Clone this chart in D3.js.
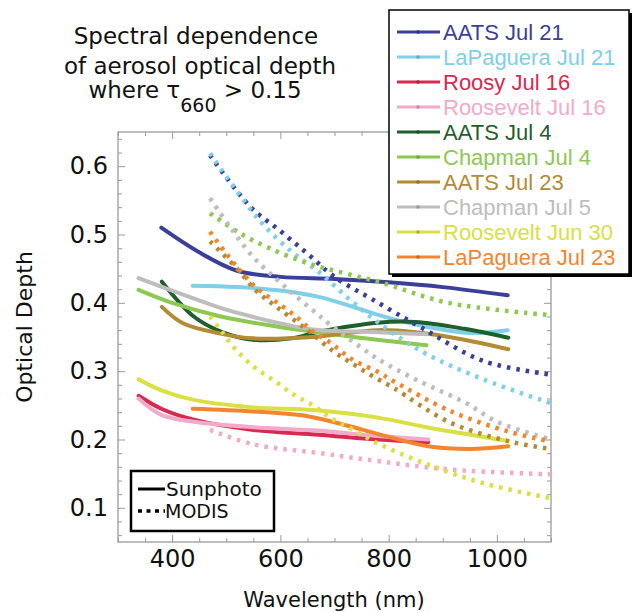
<!DOCTYPE html>
<html>
<head>
<meta charset="utf-8">
<script src="https://cdn.jsdelivr.net/npm/d3@7"></script>
<style>
body { margin: 0; background: #fff; }
svg { display: block; }
</style>
</head>
<body>
<svg width="633" height="613"></svg>
<script>
// [wavelength nm, optical depth]
var aatsJul21Sun = [[380,0.510],[450,0.474],[520,0.447],[600,0.438],[700,0.435],[800,0.430],[900,0.423],[1020,0.411]];
var lapJul21Sun = [[438,0.425],[520,0.423],[600,0.418],[675,0.408],[750,0.390],[800,0.378],[870,0.365],[950,0.356],[1020,0.360]];
var roosyJul16Sun = [[338,0.264],[380,0.245],[440,0.229],[550,0.214],[670,0.207],[780,0.200],[873,0.196]];
var roosJul16Sun = [[338,0.260],[380,0.236],[440,0.226],[550,0.218],[670,0.213],[780,0.205],[873,0.200]];
var aatsJul4Sun = [[381,0.431],[440,0.380],[490,0.358],[550,0.346],[620,0.348],[673,0.358],[780,0.371],[850,0.372],[940,0.362],[1021,0.349]];
var chapJul4Sun = [[338,0.419],[400,0.400],[490,0.380],[612,0.363],[735,0.350],[870,0.338]];
var aatsJul23Sun = [[381,0.394],[420,0.370],[489,0.355],[550,0.348],[660,0.350],[780,0.360],[850,0.357],[940,0.346],[1021,0.332]];
var chapJul5Sun = [[338,0.436],[400,0.418],[500,0.390],[600,0.370],[660,0.361],[780,0.357],[870,0.354]];
var roosJun30Sun = [[338,0.288],[380,0.272],[440,0.258],[550,0.247],[660,0.243],[780,0.232],[870,0.218],[1020,0.198]];
var lapJul23Sun = [[438,0.245],[550,0.241],[650,0.234],[730,0.219],[790,0.206],[873,0.190],[950,0.186],[1021,0.190]];

var aatsJul21Modis = [[470,0.616],[544,0.541],[600,0.505],[650,0.472],[700,0.438],[770,0.405],[860,0.364],[975,0.315],[1100,0.295]];
var lapJul21Modis = [[470,0.619],[560,0.522],[625,0.472],[673,0.444],[735,0.400],[800,0.360],[870,0.325],[975,0.288],[1100,0.253]];
var roosJul16Modis = [[470,0.214],[550,0.193],[673,0.180],[784,0.168],[913,0.156],[1100,0.149]];
var chapJul4Modis = [[470,0.531],[525,0.502],[580,0.480],[650,0.458],[720,0.443],[785,0.430],[910,0.400],[1100,0.382]];
var aatsJul23Modis = [[470,0.490],[520,0.450],[556,0.417],[593,0.394],[650,0.360],[698,0.329],[735,0.310],[772,0.292],[810,0.275],[913,0.225],[1024,0.197],[1100,0.186]];
var chapJul5Modis = [[470,0.553],[507,0.511],[550,0.467],[605,0.426],[660,0.389],[692,0.368],[747,0.336],[784,0.316],[852,0.287],[944,0.253],[1000,0.226],[1100,0.200]];
var roosJun30Modis = [[470,0.380],[490,0.360],[516,0.333],[550,0.307],[587,0.287],[624,0.266],[660,0.250],[692,0.232],[735,0.214],[778,0.195],[870,0.164],[975,0.136],[1100,0.114]];
var lapJul23Modis = [[470,0.504],[500,0.472],[530,0.443],[560,0.419],[600,0.397],[636,0.375],[660,0.358],[690,0.343],[735,0.316],[780,0.299],[810,0.285],[913,0.242],[1024,0.211],[1100,0.197]];

var names = ["AATS Jul 21","LaPaguera Jul 21","Roosy Jul 16","Roosevelt Jul 16","AATS Jul 4","Chapman Jul 4","AATS Jul 23","Chapman Jul 5","Roosevelt Jun 30","LaPaguera Jul 23"];
var colors = ["#3b3f98","#80cfe8","#d8294f","#f2aacb","#1f5f2c","#8dc851","#b38b33","#bdbdbd","#d8e043","#f3852e"];
var sunData = [aatsJul21Sun, lapJul21Sun, roosyJul16Sun, roosJul16Sun, aatsJul4Sun, chapJul4Sun, aatsJul23Sun, chapJul5Sun, roosJun30Sun, lapJul23Sun];
var modisData = [aatsJul21Modis, lapJul21Modis, null, roosJul16Modis, null, chapJul4Modis, aatsJul23Modis, chapJul5Modis, roosJun30Modis, lapJul23Modis];

var xMajor = [400, 600, 800, 1000];
var yMajor = [0.1, 0.2, 0.3, 0.4, 0.5, 0.6];

var svg = d3.select("svg");
var pLeft = 118, pRight = 551, pTop = 132, pBottom = 542;
var serif = "DejaVu Sans, Lucida Grande, sans-serif";

var x = d3.scaleLinear().domain([300, 1100]).range([pLeft, pRight]);
var y = d3.scaleLinear().domain([0.05, 0.65]).range([pBottom, pTop]);

svg.append("defs").append("clipPath").attr("id", "plotclip")
    .append("rect").attr("x", pLeft).attr("y", pTop)
    .attr("width", pRight - pLeft).attr("height", pBottom - pTop);

// title
var title = svg.append("g").attr("font-family", serif).attr("font-size", 23)
    .attr("text-anchor", "middle").attr("fill", "#111");
title.append("text").attr("x", 196).attr("y", 44).text("Spectral dependence");
title.append("text").attr("x", 200).attr("y", 74).text("of aerosol optical depth");
var t3 = title.append("text").attr("x", 195).attr("y", 98);
t3.append("tspan").text("where \u03c4");
t3.append("tspan").attr("font-size", 19).attr("dy", 14).text("660");
t3.append("tspan").attr("dy", -14).text(" > 0.15");

// axes / ticks, all inward
var tickCol = "#9a9a9a";
var minorX = d3.range(300, 1101, 50).filter(function(d) { return xMajor.indexOf(d) < 0; });
var minorY = d3.range(6, 65, 2).map(function(d) { return d / 100; }).filter(function(d) {
    return yMajor.every(function(m) { return Math.abs(m - d) > 1e-6; });
});

function styleAxis(g) {
    g.select(".domain").remove();
    g.selectAll("line").attr("stroke", tickCol).attr("stroke-width", 1);
    g.selectAll("text").attr("font-family", serif).attr("font-size", 24).attr("fill", "#111");
}

svg.append("g").attr("transform", "translate(0," + pBottom + ")")
    .call(d3.axisBottom(x).tickValues(xMajor).tickSize(-7).tickPadding(8).tickFormat(d3.format("d")))
    .call(styleAxis);
svg.append("g").attr("transform", "translate(0," + pBottom + ")")
    .call(d3.axisBottom(x).tickValues(minorX).tickSize(-4).tickFormat(""))
    .call(styleAxis);
svg.append("g").attr("transform", "translate(0," + pTop + ")")
    .call(d3.axisTop(x).tickValues(xMajor).tickSize(-7).tickFormat(""))
    .call(styleAxis);
svg.append("g").attr("transform", "translate(0," + pTop + ")")
    .call(d3.axisTop(x).tickValues(minorX).tickSize(-4).tickFormat(""))
    .call(styleAxis);

svg.append("g").attr("transform", "translate(" + pLeft + ",0)")
    .call(d3.axisLeft(y).tickValues(yMajor).tickSize(-7).tickPadding(10).tickFormat(d3.format(".1f")))
    .call(styleAxis);
svg.append("g").attr("transform", "translate(" + pLeft + ",0)")
    .call(d3.axisLeft(y).tickValues(minorY).tickSize(-4).tickFormat(""))
    .call(styleAxis);
svg.append("g").attr("transform", "translate(" + pRight + ",0)")
    .call(d3.axisRight(y).tickValues(yMajor).tickSize(-7).tickFormat(""))
    .call(styleAxis);
svg.append("g").attr("transform", "translate(" + pRight + ",0)")
    .call(d3.axisRight(y).tickValues(minorY).tickSize(-4).tickFormat(""))
    .call(styleAxis);

svg.append("rect").attr("x", pLeft).attr("y", pTop)
    .attr("width", pRight - pLeft).attr("height", pBottom - pTop)
    .attr("fill", "none").attr("stroke", tickCol).attr("stroke-width", 1.3);

svg.append("text").attr("x", 334).attr("y", 607).attr("text-anchor", "middle")
    .attr("font-family", serif).attr("font-size", 21).attr("fill", "#111")
    .text("Wavelength (nm)");
svg.append("text").attr("transform", "translate(32,327) rotate(-90)").attr("text-anchor", "middle")
    .attr("font-family", serif).attr("font-size", 22).attr("fill", "#111")
    .text("Optical Depth");

// curves
var line = d3.line()
    .x(function(d) { return x(d[0]); })
    .y(function(d) { return y(d[1]); })
    .curve(d3.curveCatmullRom.alpha(0.5));

var plot = svg.append("g").attr("clip-path", "url(#plotclip)");

sunData.forEach(function(data, i) {
    plot.append("path").datum(data)
        .attr("d", line).attr("fill", "none")
        .attr("stroke", colors[i]).attr("stroke-width", 4)
        .attr("stroke-linecap", "round");
});

modisData.forEach(function(data, i) {
    if (!data) return;
    plot.append("path").datum(data)
        .attr("d", line).attr("fill", "none")
        .attr("stroke", colors[i]).attr("stroke-width", 4.5)
        .attr("stroke-dasharray", "3.5,6");
});

// legend, top right
var leg = svg.append("g");
leg.append("rect").attr("x", 392).attr("y", 13).attr("width", 240).attr("height", 264).attr("fill", "#000");
leg.append("rect").attr("x", 389).attr("y", 10).attr("width", 240).attr("height", 264)
    .attr("fill", "#fff").attr("stroke", "#000").attr("stroke-width", 1.5);

var rows = leg.selectAll("g.row").data(names).enter().append("g")
    .attr("class", "row")
    .attr("transform", function(d, i) { return "translate(0," + (32 + i * 25) + ")"; });
rows.append("line").attr("x1", 397).attr("x2", 440).attr("y1", 0).attr("y2", 0)
    .attr("stroke", function(d, i) { return colors[i]; }).attr("stroke-width", 3);
rows.append("circle").attr("cx", 418).attr("cy", 0).attr("r", 1.8)
    .attr("fill", function(d, i) { return d3.color(colors[i]).darker(0.6); });
rows.append("text").attr("x", 443).attr("y", 8)
    .attr("font-family", "Liberation Sans, Arial, sans-serif").attr("font-size", 22)
    .attr("fill", function(d, i) { return colors[i]; })
    .text(function(d) { return d; });

// Sunphoto / MODIS key
var key = svg.append("g");
key.append("rect").attr("x", 131).attr("y", 471).attr("width", 143).attr("height", 60)
    .attr("fill", "#fff").attr("stroke", "#000").attr("stroke-width", 2.5);
key.append("line").attr("x1", 138).attr("x2", 165).attr("y1", 489).attr("y2", 489)
    .attr("stroke", "#000").attr("stroke-width", 3);
key.append("line").attr("x1", 138).attr("x2", 165).attr("y1", 511).attr("y2", 511)
    .attr("stroke", "#000").attr("stroke-width", 3.5).attr("stroke-dasharray", "4,4.5");
key.append("text").attr("x", 166).attr("y", 496).attr("font-family", serif).attr("font-size", 20)
    .attr("fill", "#111").text("Sunphoto");
key.append("text").attr("x", 165).attr("y", 518).attr("font-family", serif).attr("font-size", 19)
    .attr("fill", "#111").text("MODIS");
</script>
</body>
</html>
